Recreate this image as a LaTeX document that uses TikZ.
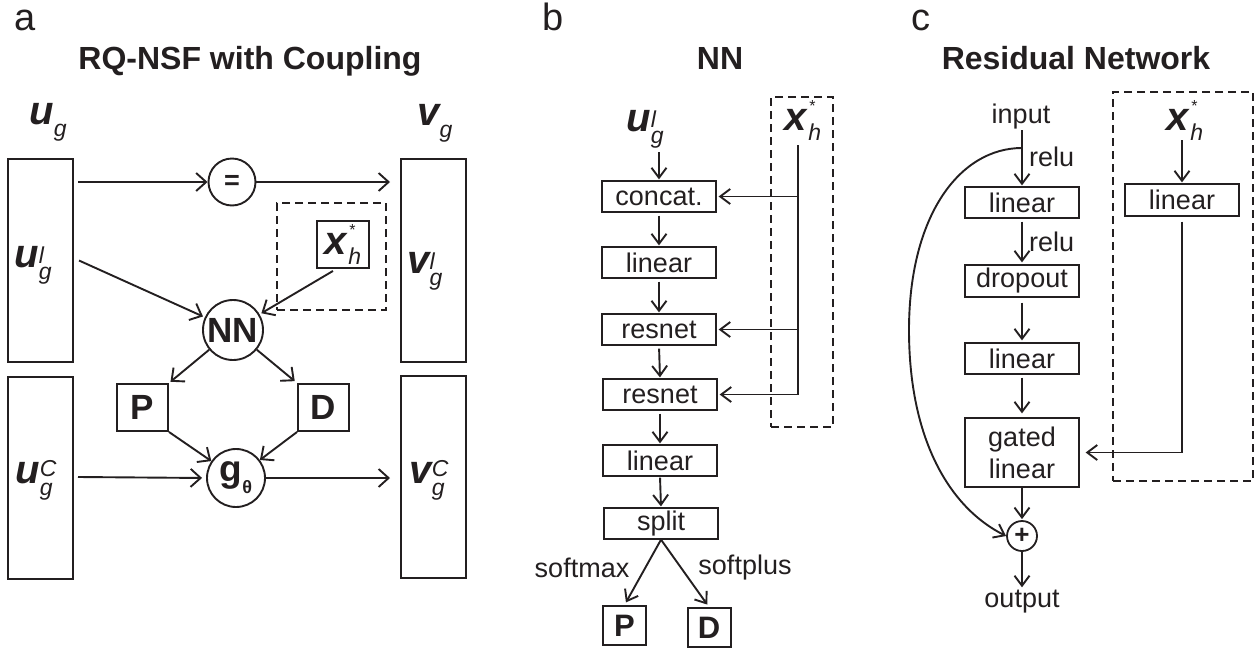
\documentclass[tikz,border=0pt]{standalone}
\usepackage{fontspec}
\setmainfont{Liberation Sans}
\usetikzlibrary{arrows.meta,calc}
\definecolor{ink}{RGB}{35,31,32}
\newcommand\BI[1]{{\fontsize{40}{40}\selectfont\bfseries\itshape #1}}
\newcommand\SI[1]{{\fontsize{23}{23}\selectfont\mdseries\itshape #1}}
\newcommand\symsub[2]{\BI{#1}\raisebox{-12pt}{\SI{#2}}}
\newcommand\symsupsub[3]{\BI{#1}\makebox[0pt][l]{\raisebox{4pt}{\SI{#2}}}\raisebox{-12pt}{\SI{#3}}}
\newcommand\symsupsubC[3]{\BI{#1}\makebox[0pt][l]{\raisebox{-12pt}{\SI{#3}}}\raisebox{7pt}{\SI{#2}}}
\newcommand\xsym{\BI{x}\kern1.5pt\makebox[0pt][l]{\kern1pt\raisebox{19pt}{\fontsize{16}{16}\selectfont\mdseries *}}\raisebox{-10pt}{\SI{h}}}
\newcommand\gsym{{\fontsize{37}{37}\selectfont\bfseries g}\raisebox{-12pt}{\fontsize{18}{18}\selectfont\bfseries θ}}
\begin{document}
\begin{tikzpicture}[x=1pt,y=-1pt,color=ink,text=ink,
 arA/.style={-{Straight Barb[length=10pt,width=18pt]},line width=1.9pt},
 arB/.style={-{Straight Barb[length=10pt,width=15pt]},line width=1.9pt},
 tallbox/.style={draw,line width=2pt,minimum width=65pt,minimum height=203pt,inner sep=0pt},
 circA/.style={draw,circle,line width=1.9pt,inner sep=0pt},
 sqA/.style={draw,line width=1.9pt,inner sep=0pt,font=\fontsize{35}{35}\selectfont\bfseries},
 sqB/.style={draw,line width=2pt,inner sep=0pt,minimum width=43pt,minimum height=39pt,font=\fontsize{31}{31}\selectfont\bfseries},
 blk/.style={draw,line width=1.3pt,minimum width=114pt,minimum height=31pt,inner sep=0pt,font=\fontsize{27}{27}\selectfont},
 txt/.style={inner sep=0pt,font=\fontsize{27}{27}\selectfont},
 lab/.style={inner sep=0pt},
 dbox/.style={draw,dash pattern=on 8pt off 5pt,line width=1.9pt,inner sep=0pt},
 panel/.style={anchor=base,inner sep=0pt,font=\fontsize{38}{38}\selectfont},
 ttl/.style={anchor=base,inner sep=0pt,font=\fontsize{32}{32}\selectfont\bfseries},
]
\useasboundingbox (0,0) rectangle (1258,651);

% ---------------- panel a
\node[panel] (la) at (25,30) {a};
\node[ttl] (ta) at (250,69) {RQ-NSF with Coupling};
\node[lab] (uglab) at (48,122) {\symsub{u}{g}};
\node[lab] (vglab) at (435,123) {\symsub{v}{g}};
\node[tallbox] (ul) at (40.5,260.5) {};
\node[tallbox,minimum height=202pt] (uc) at (40.5,478) {};
\node[tallbox] (vl) at (433.5,260.5) {};
\node[tallbox,minimum height=202pt] (vc) at (433.5,477) {};
\node[lab] (ullab) at (33,265) {\symsupsub{u}{l}{g}};
\node[lab] (uclab) at (36,480) {\symsupsubC{u}{C}{g}};
\node[lab] (vllab) at (425,271) {\symsupsub{v}{l}{g}};
\node[lab] (vclab) at (429,480) {\symsupsubC{v}{C}{g}};

\node[circA,minimum size=47pt,font=\fontsize{27}{27}\selectfont\bfseries] (eq) at (232,182) {=};
\draw[arA] ($(ul.east |- eq)+(4,0)$) -- (eq.west);
\draw[arA] (eq.east) -- ($(vl.west |- eq)+(-10,0)$);

\node[dbox,minimum width=109pt,minimum height=107pt] (da) at (331.5,256.5) {};
\node[sqA,minimum width=52pt,minimum height=47pt] (xha) at (343,244.5) {\xsym};
\node[circA,minimum size=60pt,font=\fontsize{35}{35}\selectfont\bfseries] (nn) at (233,330) {NN};
\draw[arA,shorten >=2pt] ($(ul.east)+(5,0)$) -- (nn);
\draw[arA,shorten >=2pt] ($(xha.south)+(-10,2)$) -- (nn);
\node[sqA,minimum width=51pt,minimum height=47pt] (pa) at (142.5,407.5) {P};
\node[sqA,minimum width=51pt,minimum height=47pt] (dA) at (323.5,407.5) {D};
\node[circA,minimum size=58pt] (gt) at (236,478) {\gsym};
\draw[arA,shorten >=2pt] (nn) -- (pa.north east);
\draw[arA,shorten >=3pt] (nn) -- (dA.north west);
\draw[arA] (pa.south east) -- (gt);
\draw[arA] (dA.south west) -- (gt);
\draw[arA,shorten >=4pt] ($(uc.east)+(4,-1)$) -- (gt.west);
\draw[arA] (gt.east) -- ($(vc.west |- gt)+(-10,0)$);

% ---------------- panel b
\node[panel] (lb) at (553,30) {b};
\node[ttl] (tb) at (720,69) {NN};
\node[lab] (uglb) at (645,129) {\symsupsub{u}{l}{g}};
\node[dbox,minimum width=62pt,minimum height=330pt] (db) at (802,262) {};
\node[lab] (xhb) at (803,120) {\xsym};
\coordinate (xtb) at (798,145);
\node[blk] (cc) at (659,196.5) {concat.};
\node[blk] (lin) at (659,262.5) {linear};
\node[blk] (rs1) at (659,329.5) {resnet};
\node[blk] (rs2) at (660,394.5) {resnet};
\node[blk] (lin2) at (660,460.5) {linear};
\node[blk] (sp) at (661,523.5) {split};
\node[sqB] (pb) at (624.5,625.5) {P};
\node[sqB] (db2) at (709,627.5) {D};
\draw[arB,shorten >=1pt] (cc.north |- 0,152) -- (cc.north);
\draw[arB,shorten <=3pt,shorten >=1pt] (cc.south) -- (lin.north);
\draw[arB,shorten <=3pt,shorten >=1pt] (lin.south) -- (rs1.north);
\draw[arB,shorten <=3pt,shorten >=1pt] (rs1.south) -- (rs2.north);
\draw[arB,shorten <=3pt,shorten >=1pt] (rs2.south) -- (lin2.north);
\draw[arB,shorten <=1pt,shorten >=1pt] (lin2.south) -- (sp.north);
\draw[arB,shorten >=2pt] (xtb) |- (rs2.east);
\draw[arB,shorten >=2pt] (xtb |- cc.east) -- (cc.east);
\draw[arB,shorten >=2pt] (xtb |- rs1.east) -- (rs1.east);
\draw[arB,shorten >=3pt] (sp.south) -- (pb.north);
\draw[arB,shorten >=3pt] (sp.south) -- (db2.north);
\node[txt] (sm) at (582,568) {softmax};
\node[txt] (spl) at (745,568) {softplus};

% ---------------- panel c
\node[panel] (lc) at (921,30) {c};
\node[ttl] (tc) at (1076,69) {Residual Network};
\node[txt] (inp) at (1021,117) {input};
\node[blk] (l1) at (1022,202.5) {linear};
\node[blk,minimum height=32pt] (dr) at (1022,281) {dropout};
\node[blk] (l2) at (1022,358.5) {linear};
\node[blk,minimum height=69pt,align=center,font=\fontsize{27}{32}\selectfont] (gl) at (1022,452.5) {gated\\linear};
\node[circA,line width=1.8pt,minimum size=30pt,font=\fontsize{26}{26}\selectfont\bfseries] (pl) at (1022,536) {+};
\node[txt] (outp) at (1022,602) {output};
\node[txt,anchor=west] (r1) at (1029,157) {relu};
\node[txt,anchor=west] (r2) at (1029,242) {relu};
\coordinate (br) at (1022,148);
\draw[arB,shorten >=1pt] (l1.north |- 0,130) -- (l1.north);
\draw[arB,shorten <=3pt,shorten >=2pt] (l1.south) -- (dr.north);
\draw[arB,shorten <=5pt,shorten >=2pt] (dr.south) -- (l2.north);
\draw[arB,shorten <=3pt,shorten >=4pt] (l2.south) -- (gl.north);
\draw[arB,shorten >=1pt] (gl.south) -- (pl.north);
\draw[arB,shorten >=3pt] (pl.south) -- (outp.north);
\draw[arB] (br) .. controls (960,148) and (909,215) .. (909,330) .. controls (909,440) and (950,508) .. (pl.west);

\node[dbox,minimum width=140pt,minimum height=389pt] (dc) at (1183,286.5) {};
\node[lab] (xhc) at (1185,120) {\xsym};
\node[blk,minimum height=32pt] (lr) at (1182,200) {linear};
\draw[arB,shorten >=1pt] (lr.north |- 0,140) -- (lr.north);
\draw[arB,shorten <=5pt,shorten >=6pt] (lr.south) |- (gl.east);
\end{tikzpicture}
\end{document}
